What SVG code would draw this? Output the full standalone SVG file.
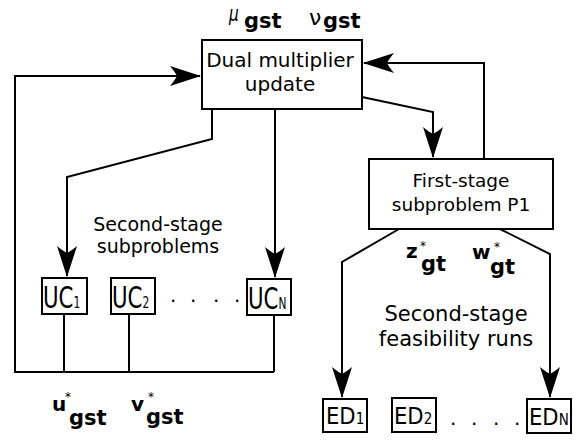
<svg xmlns="http://www.w3.org/2000/svg" width="579" height="441" viewBox="0 0 579 441">
<style>
.box{fill:#fff;stroke:#000;stroke-width:2}
.ln{fill:none;stroke:#000;stroke-width:2}
.t{font-family:"DejaVu Sans",sans-serif;fill:#000}
.b{font-family:"DejaVu Sans",sans-serif;font-weight:bold;fill:#000}
</style>
<defs>
<marker id="ah" markerUnits="userSpaceOnUse" orient="auto" viewBox="-33 -12 35 24" refX="0" refY="0" markerWidth="35" markerHeight="24">
<path d="M1,0 L-30,-10 Q-25,-4 -23,0 Q-25,4 -30,10 Z" fill="#000"/>
</marker>
</defs>
<rect width="579" height="441" fill="#fff"/>
<g id="connectors">
<path class="ln" d="M274,372 H15 V76 H200" marker-end="url(#ah)"/>
<path class="ln" d="M64,314 V372 M129,314 V372 M274,315 V372"/>
<path class="ln" d="M212,109 V139 L67,177 V276" marker-end="url(#ah)"/>
<path class="ln" d="M275,109 V277" marker-end="url(#ah)"/>
<path class="ln" d="M362,97 L433,112 V157" marker-end="url(#ah)"/>
<path class="ln" d="M484,159 V63 H364" marker-end="url(#ah)"/>
<path class="ln" d="M399,229 L342,262 V397" marker-end="url(#ah)"/>
<path class="ln" d="M500,229 L550,254 V397" marker-end="url(#ah)"/>
</g>
<g id="dual">
<rect class="box" x="202" y="40" width="160" height="69"/>
<text class="t" font-size="20" text-anchor="middle" x="280" y="67">Dual multiplier</text>
<text class="t" font-size="20" text-anchor="middle" x="280" y="91">update</text>
</g>
<g id="mu-nu">
<text class="t" font-size="22" font-style="italic" transform="translate(229,21) scale(0.7,1)">μ</text>
<text class="b" font-size="21" x="244" y="28">gst</text>
<text class="t" font-size="22" x="309" y="25">ν</text>
<text class="b" font-size="21" x="323" y="28">gst</text>
</g>
<g id="first">
<rect class="box" x="369" y="159" width="184" height="70"/>
<text class="t" font-size="18.5" text-anchor="middle" x="461" y="187">First-stage</text>
<text class="t" font-size="18.5" text-anchor="middle" x="461" y="211">subproblem P1</text>
</g>
<g id="zw">
<text class="b" font-size="20" x="406" y="258">z</text>
<text class="t" font-size="12" x="420" y="250">*</text>
<text class="b" font-size="21" x="421" y="271">gt</text>
<text class="b" font-size="20" x="472" y="259">w</text>
<text class="t" font-size="12" x="494" y="251">*</text>
<text class="b" font-size="21" x="490" y="274">gt</text>
</g>
<g id="label-sub">
<text class="t" font-size="19" text-anchor="middle" x="158" y="231">Second-stage</text>
<text class="t" font-size="19" text-anchor="middle" x="158" y="253">subproblems</text>
</g>
<g id="label-feas">
<text class="t" font-size="21" text-anchor="middle" x="456" y="321">Second-stage</text>
<text class="t" font-size="21" text-anchor="middle" x="456" y="346">feasibility runs</text>
</g>
<g id="uc1">
<rect class="box" x="42" y="278" width="45" height="36"/>
<text class="t" font-size="30" transform="translate(43,308) scale(0.71,1)">UC<tspan font-size="15">1</tspan></text>
</g>
<g id="uc2">
<rect class="box" x="111" y="278" width="44" height="36"/>
<text class="t" font-size="30" transform="translate(112,308) scale(0.71,1)">UC<tspan font-size="15">2</tspan></text>
</g>
<g id="ucn">
<rect class="box" x="247" y="279" width="44" height="36"/>
<text class="t" font-size="30" transform="translate(248,309) scale(0.71,1)">UC<tspan font-size="15">N</tspan></text>
</g>
<g id="uc-dots">
<text class="t" font-size="20" x="170 190 213 234" y="302">....</text>
</g>
<g id="ug">
<text class="b" font-size="20" x="52" y="411">u</text>
<text class="t" font-size="12" x="65" y="401">*</text>
<text class="b" font-size="21" x="69" y="425">gst</text>
<text class="b" font-size="20" x="131" y="411">v</text>
<text class="t" font-size="12" x="148" y="401">*</text>
<text class="b" font-size="21" x="146" y="424">gst</text>
</g>
<g id="ed1">
<rect class="box" x="323" y="399" width="44" height="33"/>
<text class="t" font-size="23.5" transform="translate(326,424) scale(0.9,1)">ED<tspan font-size="15">1</tspan></text>
</g>
<g id="ed2">
<rect class="box" x="392" y="398" width="44" height="34"/>
<text class="t" font-size="23.5" transform="translate(394,424) scale(0.9,1)">ED<tspan font-size="15">2</tspan></text>
</g>
<g id="edn">
<rect class="box" x="527" y="399" width="44" height="34"/>
<text class="t" font-size="23.5" transform="translate(529,425) scale(0.9,1)">ED<tspan font-size="15">N</tspan></text>
</g>
<g id="ed-dots">
<text class="t" font-size="20" x="450 471 493 514" y="425">....</text>
</g>
</svg>
